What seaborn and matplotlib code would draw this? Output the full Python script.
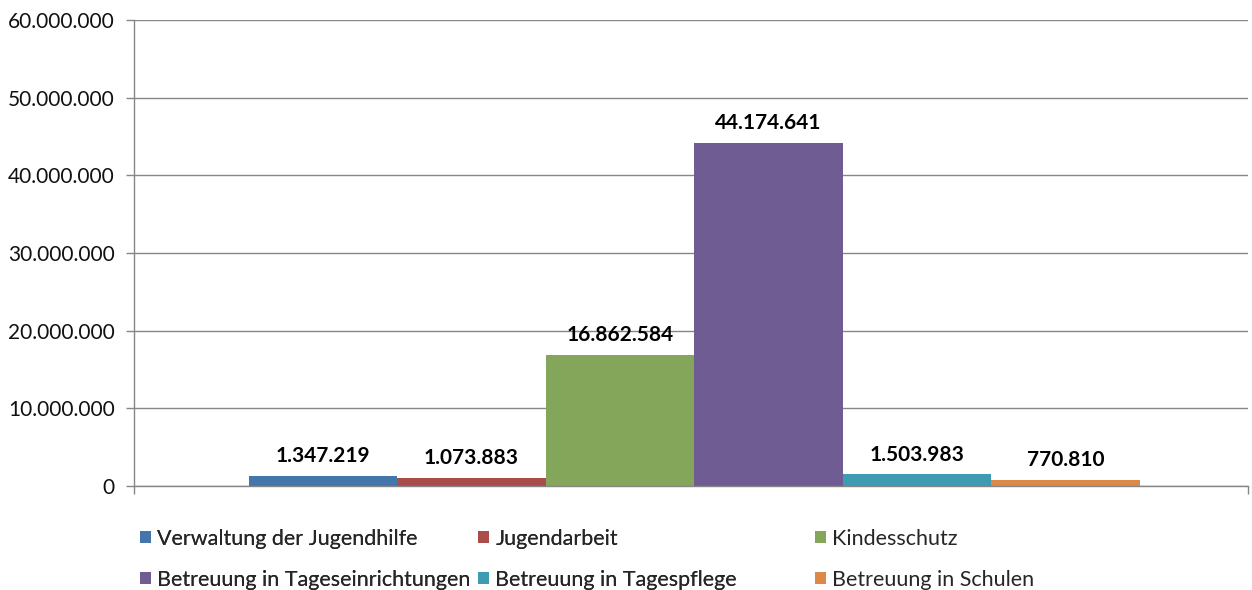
import numpy as np
import pandas as pd
import seaborn as sns
import matplotlib.pyplot as plt
from matplotlib.patches import Patch
from matplotlib.ticker import FuncFormatter

# ---------------------------------data
categories = ["Verwaltung der Jugendhilfe", "Jugendarbeit", "Kindesschutz",
              "Betreuung in Tageseinrichtungen", "Betreuung in Tagespflege",
              "Betreuung in Schulen"]
values = [1347219, 1073883, 16862584, 44174641, 1503983, 770810]
colors = ["#4376AA", "#A94C4A", "#84A65B", "#6F5C92", "#3D9CB1", "#DC8847"]
yticks = [0, 10000000, 20000000, 30000000, 40000000, 50000000, 60000000]


def de_fmt(v, pos=None):
    return f"{int(round(v)):,}".replace(",", ".")


data = pd.DataFrame({"grp": [""] * len(values), "kategorie": categories, "wert": values})

sns.set_style("white")
plt.rcParams['font.family'] = ['Lato', 'DejaVu Sans']

fig = plt.figure(figsize=(12.52, 5.90), dpi=100)
ax = fig.add_axes([0.107, 0.1763, 0.8897, 0.7898])

sns.barplot(data=data, x="grp", y="wert", hue="kategorie", hue_order=categories,
            palette=colors, width=0.8, saturation=1, legend=False, linewidth=0, ax=ax)

for cont in ax.containers:
    ax.bar_label(cont, labels=[de_fmt(v) for v in cont.datavalues], padding=7,
                 fontsize=15, fontweight="bold", color="black")

ax.set_xlim(-0.503, 0.497)
ax.set_ylim(0, 60000000)
ax.set_yticks(yticks)
ax.yaxis.set_major_formatter(FuncFormatter(de_fmt))
ax.set_xticks([-0.503, 0.497])
ax.set_xticklabels(["", ""])
ax.set_xlabel("")
ax.set_ylabel("")
ax.tick_params(axis="y", labelsize=15, labelcolor="#111111", length=6, width=1, color="#868686",
               direction="out", pad=8, left=True)
ax.tick_params(axis="x", length=6, width=1, color="#868686", direction="out", bottom=True)
ax.grid(axis="y", color="#868686", lw=1)
ax.set_axisbelow(True)
for s in ["top", "right"]:
    ax.spines[s].set_visible(False)
for s in ["left", "bottom"]:
    ax.spines[s].set_color("#868686")
    ax.spines[s].set_linewidth(1)

# legend in three equal columns like excel
handles = [Patch(facecolor=c, edgecolor="none") for c in colors]
col_x = [0.1118, 0.3818, 0.651]
for i in range(3):
    leg = fig.legend([handles[i], handles[i + 3]], [categories[i], categories[i + 3]],
                     loc="upper left", bbox_to_anchor=(col_x[i], 0.104), ncol=1, frameon=False,
                     fontsize=15.5, handlelength=0.5, handleheight=0.5, handletextpad=0.3,
                     labelspacing=0.98, borderaxespad=0, borderpad=0)
    if i < 2:
        fig.add_artist(leg)

fig.savefig("out.png", dpi=100)
